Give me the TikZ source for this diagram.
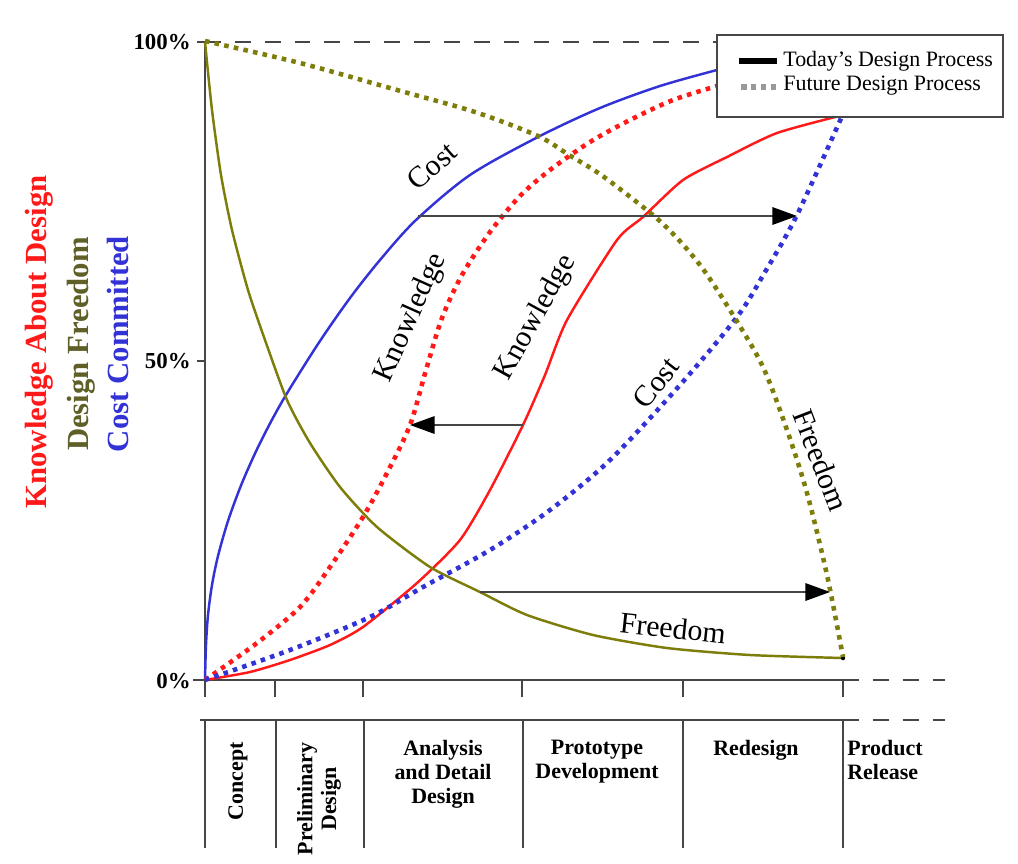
\documentclass[tikz,border=0pt]{standalone}
\usepackage{fontspec}
\setmainfont{Liberation Serif}
\usetikzlibrary{arrows.meta}

\definecolor{knowred}{RGB}{255,25,25}
\definecolor{costblue}{RGB}{50,50,215}
\definecolor{freeolive}{RGB}{125,125,10}
\definecolor{freelabel}{RGB}{95,95,40}
\definecolor{axisgray}{RGB}{70,70,70}

\begin{document}
\begin{tikzpicture}[x=0.02cm, y=-0.02cm,
  axis/.style={draw=axisgray, line width=1.1pt},
  gapline/.style={draw=axisgray, line width=1pt, dash pattern=on 9pt off 8pt},
  nowline/.style={line width=1.4pt},
  futline/.style={line width=2.6pt, dash pattern=on 2.6pt off 3pt},
  shiftarrow/.style={draw=axisgray, line width=0.8pt, -{Triangle[length=14pt, width=10pt, color=black]}},
  pct/.style={font=\bfseries\fontsize{13}{15}\selectfont, anchor=east, inner sep=0pt},
  sidelabel/.style={font=\bfseries\fontsize{17.5}{20}\selectfont, rotate=90, inner sep=0pt},
  curvelabel/.style={font=\fontsize{17}{20}\selectfont, inner sep=0pt},
  phase/.style={font=\bfseries\fontsize{12.5}{13.5}\selectfont, align=center, anchor=north, inner sep=0pt},
  legendtext/.style={font=\fontsize{12.5}{14}\selectfont, anchor=west, inner sep=0pt}
]
\useasboundingbox (0,0) rectangle (1018,863);

% axes and guide lines
\draw[gapline] (205,42) -- (717,42);
\draw[axis] (197,42) -- (205,42);
\draw[axis] (197,361) -- (205,361);
\draw[axis] (205,42) -- (205,697);
\draw[axis] (193,680) -- (843,680);
\draw[gapline] (843,680) -- (945,680);
\foreach \x in {275,363,522,683,843}
  \draw[axis] (\x,680) -- (\x,697);

\node[pct] (p100) at (191,42) {100\%};
\node[pct] (p50) at (191,361) {50\%};
\node[pct] (p0) at (191,681) {0\%};

\node[sidelabel, text=knowred] (knowaxis) at (39,342) {Knowledge About Design};
\node[sidelabel, text=freelabel] (freeaxis) at (81,344) {Design Freedom};
\node[sidelabel, text=costblue] (costaxis) at (118,344) {Cost Committed};

% today's curves
\draw[nowline, costblue] plot[smooth] coordinates {(205,680) (206,645) (208,615) (212,585) (218,556) (228,521) (242,483) (260,443) (283,400) (318,344) (350,298) (380,260) (416,220) (470,175) (538,137) (600,108) (660,86) (717,70)};
\draw[nowline, knowred] plot[smooth, tension=0.4] coordinates {(205,680) (250,672) (290,660) (330,645) (363,627) (417,583) (460,540) (490,490) (523,425) (545,375) (567,320) (617,240) (643,217) (683,180) (727,157) (777,133) (843,115)};
\draw[nowline, freeolive] plot[smooth, tension=0.4] coordinates {(205,42) (212,110) (221,175) (232,230) (248,290) (265,340) (287,400) (310,443) (340,487) (377,527) (430,567) (480,592) (527,615) (593,635) (667,648) (750,655) (843,658)};
\fill (843,658) circle (2.2);

% future curves
\draw[futline, knowred] plot[smooth] coordinates {(205,680) (257,643) (300,607) (330,567) (363,517) (387,473) (410,425) (426,370) (442,318) (462,275) (490,232) (520,196) (550,170) (590,142) (630,120) (673,100) (717,86)};
\draw[futline, costblue] plot[smooth] coordinates {(205,680) (290,650) (370,617) (423,587) (490,550) (550,510) (610,460) (680,385) (737,317) (765,272) (797,215) (843,114)};
\draw[futline, freeolive] plot[smooth] coordinates {(205,41) (300,63) (397,90) (475,112) (538,136) (569,155) (604,177) (662,223) (700,265) (733,315) (763,367) (787,430) (807,493) (827,575) (843,657)};

% shifts between today and future
\coordinate (costnow) at (418,216);
\coordinate (costfut) at (797,216);
\coordinate (knownow) at (523,425);
\coordinate (knowfut) at (410,425);
\coordinate (freenow) at (480,592);
\coordinate (freefut) at (830,592);
\draw[shiftarrow] (costnow) -- (costfut);
\draw[shiftarrow] (knownow) -- (knowfut);
\draw[shiftarrow] (freenow) -- (freefut);

\node[curvelabel, rotate=41] (costa) at (432,166) {Cost};
\node[curvelabel, rotate=66] (knowa) at (411,318) {Knowledge};
\node[curvelabel, rotate=61] (knowb) at (536,318) {Knowledge};
\node[curvelabel, rotate=52] (costb) at (656,383) {Cost};
\node[curvelabel, rotate=-69] (freea) at (821,460) {Freedom};
\node[curvelabel, rotate=-6] (freeb) at (673,628) {Freedom};

% legend
\draw[draw=axisgray, line width=1pt, fill=white] (717,35) rectangle (1003,117);
\coordinate (nowa) at (739,61);
\coordinate (nowb) at (777,61);
\coordinate (futa) at (741,87);
\coordinate (futb) at (777,87);
\draw[line width=3.2pt] (nowa) -- (nowb);
\draw[line width=3.2pt, gray!80, dash pattern=on 3.2pt off 2.4pt] (futa) -- (futb);
\node[legendtext] (nowtext) at (783,61) {Today’s Design Process};
\node[legendtext] (futtext) at (783,86) {Future Design Process};

% phase table
\draw[axis] (200,720) -- (843,720);
\draw[gapline] (843,720) -- (945,720);
\foreach \x in {205,276,364,523,683,843}
  \draw[axis] (\x,720) -- (\x,848);

\node[phase, rotate=90, anchor=east] (concept) at (238,742) {Concept};
\node[phase, rotate=90, anchor=east] (prelim) at (319,742) {Preliminary\\Design};
\node[phase] (analysis) at (443,740) {Analysis\\and Detail\\Design};
\node[phase] (proto) at (597,740) {Prototype\\Development};
\node[phase] (redesign) at (756,740) {Redesign};
\node[phase, align=left, anchor=north west] (release) at (847,740) {Product\\Release};
\end{tikzpicture}
\end{document}
